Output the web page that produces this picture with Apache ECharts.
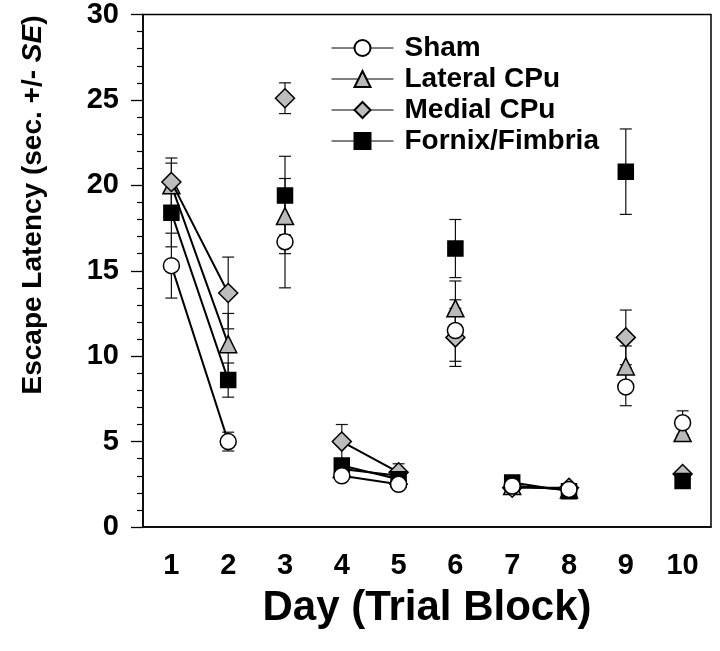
<!DOCTYPE html>
<html>
<head>
<meta charset="utf-8">
<script src="https://cdn.jsdelivr.net/npm/echarts@6/dist/echarts.min.js"></script>
<style>
html,body{margin:0;padding:0;background:#fff;}
#chart{width:720px;height:651px;}
</style>
</head>
<body>
<div id="chart"></div>
<script>
// ---- data ----
const days = ['1','2','3','4','5','6','7','8','9','10'];
const pairedDays = ['1','2','4','5','7','8'];   // days joined by lines
const probeDays = ['3','6','9','10'];           // isolated points

const shamMean    = [15.3, 5.0, 16.7, 3.0, 2.5, 11.5, 2.4, 2.2, 8.2, 6.1];
const shamSE      = [1.9, 0.55, 2.7, 0.3, 0.2, 1.8, 0.2, 0.2, 1.1, 0.7];
const lateralMean = [20.0, 10.7, 18.2, 3.4, 3.0, 12.8, 2.4, 2.2, 9.4, 5.5];
const lateralSE   = [1.3, 1.8, 2.2, 0.3, 0.3, 1.6, 0.2, 0.2, 1.2, 0.4];
const medialMean  = [20.2, 13.7, 25.1, 5.0, 3.2, 11.1, 2.3, 2.3, 11.1, 3.1];
const medialSE    = [1.4, 2.1, 0.9, 1.0, 0.5, 1.7, 0.2, 0.2, 1.6, 0.2];
const fornixMean  = [18.4, 8.6, 19.4, 3.6, 2.8, 16.3, 2.6, 2.1, 20.8, 2.7];
const fornixSE    = [2.0, 1.0, 2.3, 0.4, 0.3, 1.7, 0.2, 0.2, 2.5, 0.2];

const groupNames = ['Sham', 'Lateral CPu', 'Medial CPu', 'Fornix/Fimbria'];
const yTitle = 'Escape Latency (sec. +/- {i|SE})';
const xTitle = 'Day (Trial Block)';

// ---- styles ----
const FONT = 'Liberation Sans, Arial, Helvetica, sans-serif';
const styles = {
  'Sham':           {symbol:'circle',   size:16, fill:'#ffffff'},
  'Lateral CPu':    {symbol:'triangle', size:17, fill:'#b9b9b9'},
  'Medial CPu':     {symbol:'diamond',  size:19, fill:'#bdbdbd'},
  'Fornix/Fimbria': {symbol:'rect',     size:15, fill:'#000000'}
};
const groups = [
  {name:'Sham', mean:shamMean, se:shamSE},
  {name:'Lateral CPu', mean:lateralMean, se:lateralSE},
  {name:'Medial CPu', mean:medialMean, se:medialSE},
  {name:'Fornix/Fimbria', mean:fornixMean, se:fornixSE}
];
// drawing order (last on top)
const drawOrder = ['Lateral CPu', 'Medial CPu', 'Fornix/Fimbria', 'Sham'];

const series = [];
// error bars
groups.forEach(g => {
  series.push({
    name: 'eb-' + g.name,
    type: 'custom',
    z: 1,
    silent: true,
    data: days.map((d, i) => [i, g.mean[i], g.se[i]]),
    encode: {x: 0, y: 1},
    renderItem: function (params, api) {
      const i = api.value(0), m = api.value(1), s = api.value(2);
      const top = api.coord([i, m + s]);
      const bot = api.coord([i, m - s]);
      const hw = 6;
      const st = {stroke:'#111', lineWidth:1.2};
      return {type:'group', children:[
        {type:'line', shape:{x1:top[0], y1:top[1], x2:bot[0], y2:bot[1]}, style:st},
        {type:'line', shape:{x1:top[0]-hw, y1:top[1], x2:top[0]+hw, y2:top[1]}, style:st},
        {type:'line', shape:{x1:bot[0]-hw, y1:bot[1], x2:bot[0]+hw, y2:bot[1]}, style:st}
      ]};
    }
  });
});
drawOrder.forEach((name, k) => {
  const g = groups.find(x => x.name === name);
  const st = styles[name];
  const common = {
    name: name,
    symbol: st.symbol,
    symbolSize: st.size,
    itemStyle: {color: st.fill, borderColor:'#000', borderWidth:1.5, opacity:1},
    emphasis: {disabled: true},
    z: 3 + k
  };
  series.push(Object.assign({}, common, {
    type: 'line',
    showSymbol: true,
    showAllSymbol: true,
    connectNulls: false,
    lineStyle: {color:'#000', width:2},
    data: days.map((d, i) => pairedDays.includes(d) ? g.mean[i] : '-')
  }));
  series.push(Object.assign({}, common, {
    type: 'scatter',
    data: days.map((d, i) => probeDays.includes(d) ? g.mean[i] : '-')
  }));
});

const chart = echarts.init(document.getElementById('chart'), null, {renderer:'canvas'});
chart.setOption({
  animation: false,
  backgroundColor: '#fff',
  grid: {left:143, right:9, top:14, bottom:124, show:true, borderColor:'#000', borderWidth:1.5, backgroundColor:'transparent'},
  legend: {
    data: groupNames,
    orient: 'vertical',
    left: 326,
    top: 29,
    itemWidth: 62,
    itemHeight: 20,
    itemGap: 3,
    lineStyle: {width: 1},
    textStyle: {fontFamily: FONT, fontWeight:'bold', fontSize:28, color:'#000', padding:[0,0,0,6]},
    selectedMode: false
  },
  graphic: [{
    type: 'text',
    x: 33, y: 205,
    rotation: Math.PI / 2,
    style: {
      text: yTitle,
      font: 'bold 28px ' + FONT,
      fill: '#000',
      align: 'center',
      verticalAlign: 'middle',
      rich: {i: {font: 'italic bold 28px ' + FONT, fill:'#000'}}
    }
  }],
  xAxis: {
    type: 'category',
    data: days,
    boundaryGap: true,
    name: xTitle,
    nameLocation: 'middle',
    nameGap: 60,
    nameTextStyle: {fontFamily: FONT, fontWeight:'bold', fontSize:42, color:'#000'},
    axisLine: {lineStyle:{color:'#000', width:1.5}},
    axisTick: {alignWithLabel:true, length:11, lineStyle:{color:'#000', width:1.3}},
    axisLabel: {fontFamily: FONT, fontWeight:'bold', fontSize:29, color:'#000', margin:24},
    splitLine: {show:false}
  },
  yAxis: {
    type: 'value',
    min: 0, max: 30, interval: 5,
    axisLine: {show:true, lineStyle:{color:'#000', width:1.5}},
    axisTick: {show:true, length:12, lineStyle:{color:'#000', width:1.3}},
    minorTick: {show:true, splitNumber:5, length:6, lineStyle:{color:'#000', width:1.2}},
    axisLabel: {fontFamily: FONT, fontWeight:'bold', fontSize:29, color:'#000', margin:24},
    splitLine: {show:false},
    minorSplitLine: {show:false}
  },
  series: series
});
</script>
</body>
</html>
